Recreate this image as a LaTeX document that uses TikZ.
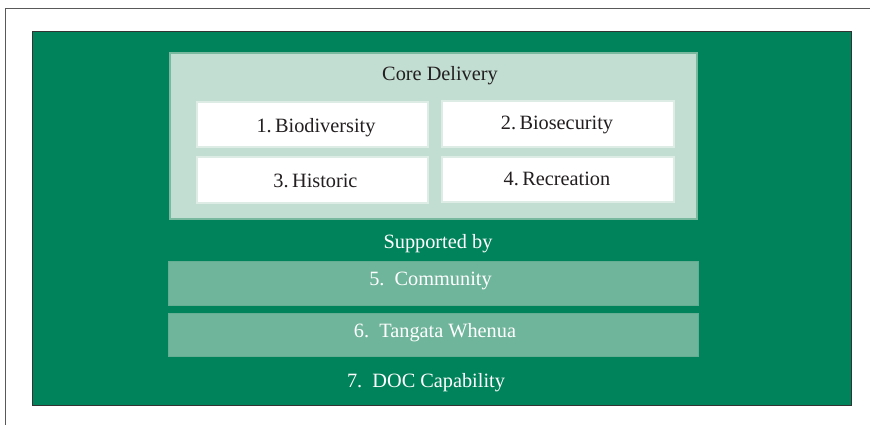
\documentclass[tikz,border=0pt]{standalone}
\usepackage{fontspec}
\setmainfont{Liberation Serif}
\definecolor{docgreen}{HTML}{00835A}
\definecolor{corefill}{HTML}{C2DDD2}
\definecolor{coreline}{HTML}{79B99F}
\definecolor{boxline}{HTML}{DDEDE6}
\definecolor{bandfill}{HTML}{6FB59B}
\definecolor{bandline}{HTML}{66AE93}
\definecolor{inktext}{HTML}{231F20}
\begin{document}
\begin{tikzpicture}[x=1pt,y=-1pt,
  corebox/.style={draw=coreline,line width=2pt,fill=corefill},
  areabox/.style={draw=boxline,line width=2.5pt,fill=white},
  band/.style={draw=bandline,line width=1pt,fill=bandfill},
  label/.style={anchor=base,inner sep=0pt,font=\fontsize{20.3}{23}\selectfont},
  dark/.style={label,text=inktext},
  light/.style={label,text=white}]
  \useasboundingbox (0,0) rectangle (870,424);
  % page frame
  \draw[gray!70!black,line width=1pt] (5.5,440) -- (5.5,8.5) -- (880,8.5);
  % green panel
  \path[draw=black!80,line width=1pt,fill=docgreen] (32.5,31.5) rectangle (851,405);
  % core delivery block
  \path[corebox] (170,53) rectangle (697,219);
  \node[dark] (core) at (440,80) {Core Delivery};
  \path[areabox] (197,102) rectangle (428,147);
  \path[areabox] (442,101) rectangle (674,147);
  \path[areabox] (197,157) rectangle (428,203);
  \path[areabox] (442,157) rectangle (674,202);
  \node[dark] (bio) at (316,132) {1.\,Biodiversity};
  \node[dark] (sec) at (557,129) {2.\,Biosecurity};
  \node[dark] (his) at (315.5,187) {3.\,Historic};
  \node[dark] (rec) at (557,185) {4.\,Recreation};
  % supporting layers
  \node[light] (sup) at (438,248) {Supported by};
  \path[band] (168.5,261.5) rectangle (698.5,305.5);
  \path[band] (168.5,313.5) rectangle (698.5,356.5);
  \node[light] (com) at (430.5,285) {5.\ \ Community};
  \node[light] (tan) at (435,337) {6.\ \ Tangata Whenua};
  \node[light] (cap) at (426,387) {7.\ \ DOC Capability};
\end{tikzpicture}
\end{document}
